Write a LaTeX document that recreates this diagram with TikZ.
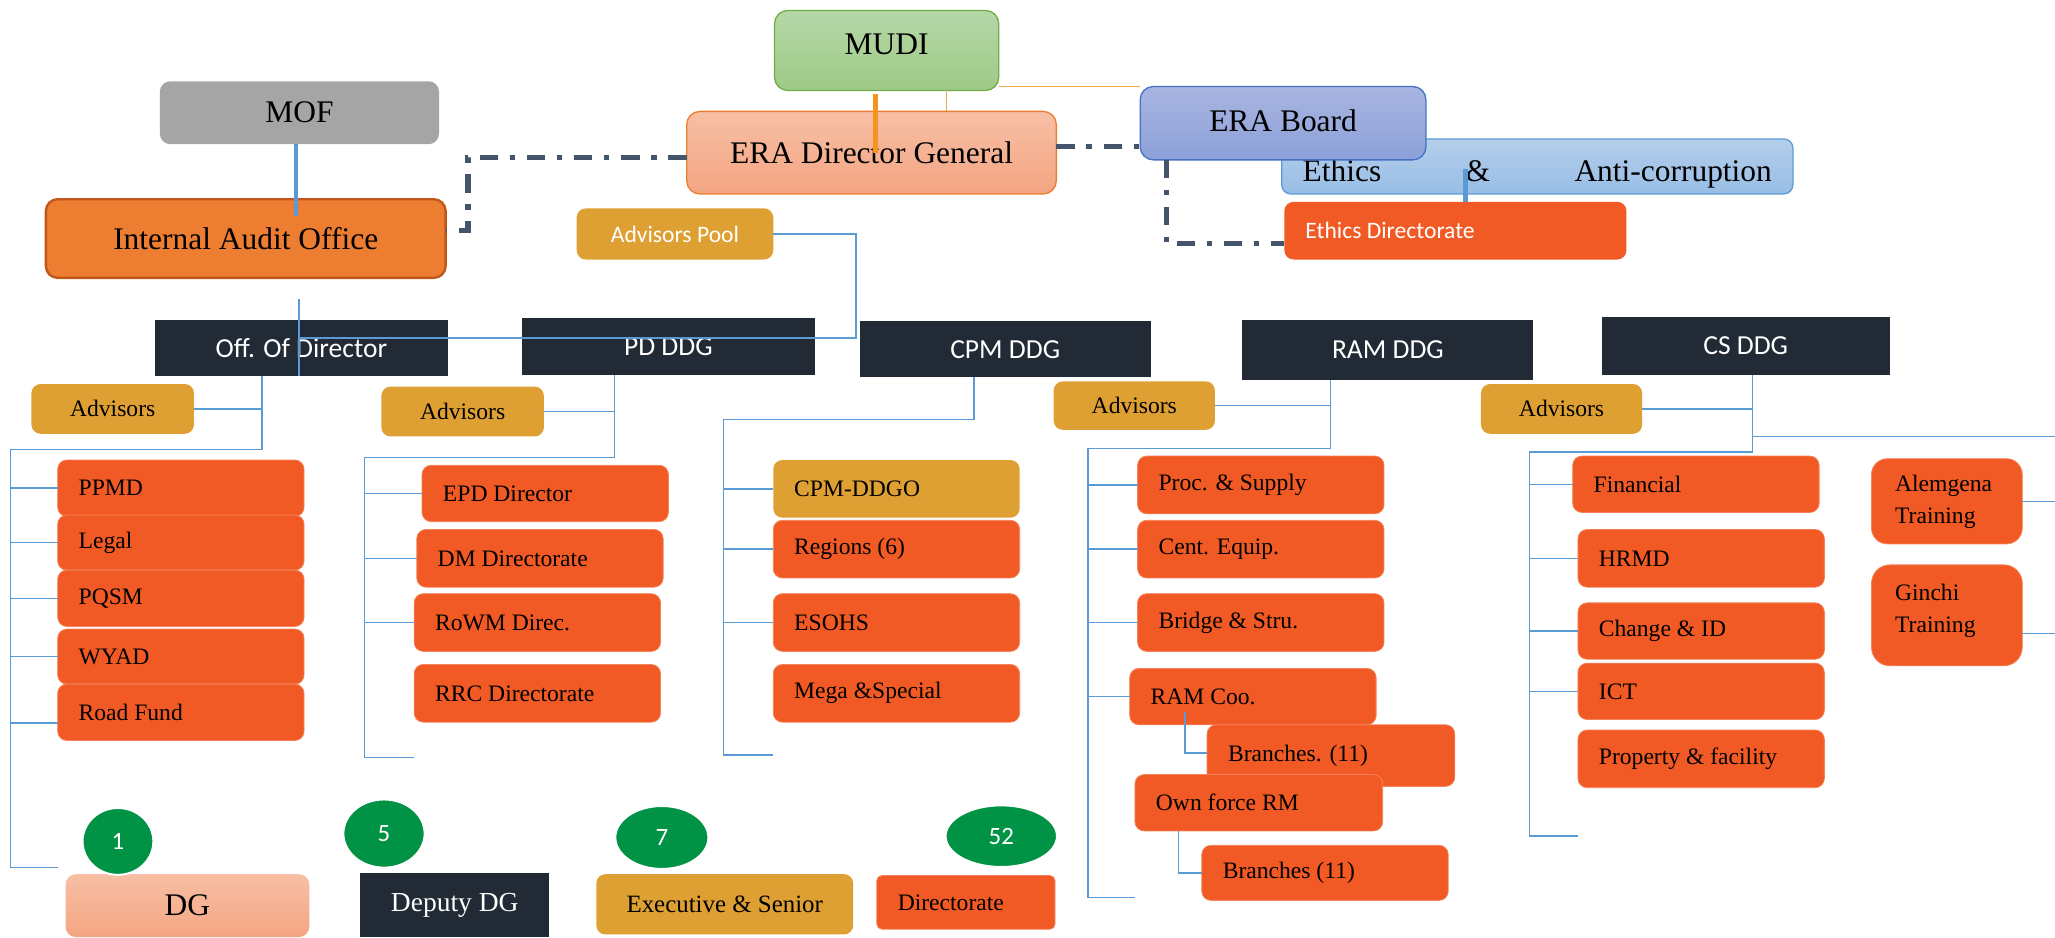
\documentclass[tikz,border=0pt]{standalone}
\usepackage{fontspec}
\setmainfont{Liberation Serif}
\newfontfamily\calib{Carlito}
\usetikzlibrary{shapes.geometric}
\definecolor{navy}{HTML}{222A35}
\definecolor{ored}{HTML}{F15A24}
\definecolor{oredl}{HTML}{F4825A}
\definecolor{gold}{HTML}{DEA032}
\definecolor{iaof}{HTML}{ED7D31}
\definecolor{iaob}{HTML}{C0561A}
\definecolor{salt}{HTML}{F7BFA5}
\definecolor{salb}{HTML}{F4A582}
\definecolor{salbd}{HTML}{ED7D31}
\definecolor{grt}{HTML}{B6D7A8}
\definecolor{grb}{HTML}{9DCA86}
\definecolor{grbd}{HTML}{70AD47}
\definecolor{bdt}{HTML}{A9B5E1}
\definecolor{bdb}{HTML}{8CA0D8}
\definecolor{bdbd}{HTML}{4472C4}
\definecolor{eat}{HTML}{B4CFEB}
\definecolor{eab}{HTML}{98BDE5}
\definecolor{eabd}{HTML}{5B9BD5}
\definecolor{greyb}{HTML}{A5A5A5}
\definecolor{conb}{HTML}{5B9BD5}
\definecolor{slate}{HTML}{44546A}
\definecolor{orthick}{HTML}{F7941D}
\definecolor{orthin}{HTML}{F5A94F}
\definecolor{grn}{HTML}{009245}
\newcommand\sz[2]{\fontsize{#1pt}{#2pt}\selectfont}
\newcommand\bx[7]{\node[#2,anchor=north west,minimum width={(#5-#3)*1pt},minimum height={(#6-#4)*1pt}] (#1) at (#3,#4) {#7};}
\newcommand\lbx[7]{\node[#2,anchor=north west,minimum width={(#5-#3)*1pt},minimum height={(#6-#4)*1pt}] (#1) at (#3,#4) {\makebox[\dimexpr #5pt-#3pt\relax][l]{\hspace*{16pt}#7}};}
\newcommand\shiftv[2]{\raisebox{#1}[\height][\depth]{#2}}
\tikzset{
 base/.style={inner sep=0pt,outer sep=0pt,align=center},
 nv/.style={base,fill=navy,text=white,font=\calib\sz{21}{25}},
 ob/.style={base,fill=ored,draw=oredl,line width=0.6pt,rounded corners=7pt,font=\sz{18}{22}},
 gb/.style={base,fill=gold,rounded corners=7pt,font=\sz{18}{22}},
 con/.style={draw=conb,line width=1.1pt},
 bthick/.style={draw=conb,line width=3.5pt},
 dd/.style={draw=slate,line width=4pt,dash pattern=on 14pt off 9pt on 4pt off 9pt},
 othick/.style={draw=orthick,line width=3.5pt},
 othin/.style={draw=orthin,line width=1pt},
 ell/.style={ellipse,fill=grn,draw=white,line width=1.5pt,text=white,inner sep=0pt,font=\calib\sz{19}{22}}
}
\begin{document}
\begin{tikzpicture}[x=1pt,y=-1pt]
\useasboundingbox (0,0) rectangle (1568,715);
% ---------- top ----------
\bx{mudi}{base,top color=grt,bottom color=grb,draw=grbd,line width=1pt,rounded corners=10pt,font=\sz{24}{28}}{591}{8}{762}{69}{\shiftv{5pt}{MUDI}}
\bx{mof}{base,fill=greyb,rounded corners=8pt,font=\sz{24}{28}}{122}{62}{335}{110}{MOF}
\bx{ea}{base,top color=eat,bottom color=eab,draw=eabd,line width=1pt,rounded corners=7pt,font=\sz{24}{28}}{978}{106}{1368}{148}{\shiftv{-6pt}{\hbox to 358pt{Ethics\hfill\&\hfill Anti-corruption}}}
\bx{board}{base,top color=bdt,bottom color=bdb,draw=bdbd,line width=1pt,rounded corners=10pt,font=\sz{24}{28}}{870}{66}{1088}{122}{\shiftv{2pt}{ERA Board}}
\bx{dg}{base,top color=salt,bottom color=salb,draw=salbd,line width=1pt,rounded corners=10pt,font=\sz{24}{28}}{524}{85}{806}{148}{ERA Director General}
\lbx{ed}{ob,draw=none,text=white,font=\calib\sz{18}{22}}{980}{154}{1241}{198}{Ethics Directorate}
\bx{iao}{base,fill=iaof,draw=iaob,line width=1.8pt,rounded corners=9pt,font=\sz{24}{28}}{35}{152}{340}{212}{Internal Audit Office}
\bx{ap}{gb,text=white,font=\calib\sz{18}{22}}{440}{159}{590}{198}{Advisors Pool}
% ---------- DDG row ----------
\bx{od}{nv}{118}{244}{342}{287}{Off. Of Director}
\bx{pd}{nv}{398}{243}{622}{286}{PD DDG}
\bx{cpm}{nv}{656}{245}{878}{288}{CPM DDG}
\bx{ram}{nv}{948}{244}{1170}{290}{RAM DDG}
\bx{cs}{nv}{1222}{242}{1442}{286}{CS DDG}
% ---------- advisors ----------
\bx{adA}{gb}{24}{293}{148}{331}{Advisors}
\bx{adB}{gb}{291}{295}{415}{333}{Advisors}
\bx{adC}{gb}{804}{291}{927}{328}{Advisors}
\bx{adD}{gb}{1130}{293}{1253}{331}{Advisors}
% ---------- office of director ----------
\lbx{ppmd}{ob}{44}{351}{232}{394}{PPMD}
\lbx{legal}{ob}{44}{393}{232}{435}{Legal}
\lbx{pqsm}{ob}{44}{435}{232}{478}{PQSM}
\lbx{wyad}{ob}{44}{480}{232}{522}{WYAD}
\lbx{rf}{ob}{44}{522}{232}{565}{Road Fund}
% ---------- PD ----------
\lbx{epd}{ob}{322}{355}{510}{398}{EPD Director}
\lbx{dm}{ob}{318}{404}{506}{448}{DM Directorate}
\lbx{rowm}{ob}{316}{453}{504}{497}{RoWM Direc.}
\lbx{rrc}{ob}{316}{507}{504}{551}{RRC Directorate}
% ---------- CPM ----------
\lbx{ddgo}{gb}{590}{351}{778}{395}{CPM-DDGO}
\lbx{reg}{ob}{590}{397}{778}{441}{Regions (6)}
\lbx{esohs}{ob}{590}{453}{778}{497}{ESOHS}
\lbx{mega}{ob}{590}{507}{778}{551}{Mega \&Special}
% ---------- RAM ----------
\lbx{proc}{ob}{868}{348}{1056}{392}{Proc. \& Supply}
\lbx{cent}{ob}{868}{397}{1056}{441}{Cent. Equip.}
\lbx{bridge}{ob}{868}{453}{1056}{497}{Bridge \& Stru.}
\lbx{ramcoo}{ob}{862}{510}{1050}{553}{RAM Coo.}
\lbx{brA}{ob}{921}{553}{1110}{600}{Branches. (11)}
\lbx{ownf}{ob}{866}{591}{1055}{634}{Own force RM}
\lbx{brB}{ob}{917}{645}{1105}{687}{Branches (11)}
% ---------- CS ----------
\lbx{fin}{ob}{1200}{348}{1388}{391}{Financial}
\lbx{hrmd}{ob}{1204}{404}{1392}{448}{HRMD}
\lbx{chg}{ob}{1204}{460}{1392}{503}{Change \& ID}
\lbx{ict}{ob}{1204}{506}{1392}{549}{ICT}
\lbx{prop}{ob}{1204}{557}{1392}{601}{Property \& facility}
\lbx{alem}{ob,rounded corners=12pt,font=\sz{18}{24}}{1428}{350}{1543}{415}{\hspace*{2pt}\begin{tabular}{@{}l@{}}Alemgena\\Training\end{tabular}}
\lbx{ginchi}{ob,rounded corners=14pt,font=\sz{18}{24}}{1428}{431}{1543}{508}{\hspace*{2pt}\shiftv{4pt}{\begin{tabular}{@{}l@{}}Ginchi\\Training\end{tabular}}}
% ---------- legend ----------
\bx{lgdg}{base,top color=salt,bottom color=salb,rounded corners=8pt,font=\sz{24}{28}}{50}{667}{236}{715}{DG}
\bx{lgddg}{nv,font=\sz{21}{24}}{275}{666}{419}{715}{Deputy DG}
\bx{lgex}{gb,font=\sz{19}{22}}{455}{667}{651}{713}{Executive \& Senior}
\lbx{lgdir}{ob,rounded corners=4pt}{669}{668}{805}{709}{Directorate}
\node[ell,minimum width=54pt,minimum height=51pt] (n1) at (90,642) {1};
\node[ell,minimum width=62pt,minimum height=52pt] (n5) at (293,636) {5};
\node[ell,minimum width=71pt,minimum height=48pt] (n7) at (505,639) {7};
\node[ell,minimum width=85pt,minimum height=47pt] (n52) at (764,638) {52};
% ---------- top connectors ----------
\coordinate (mt) at (668,72);
\draw[othick] (mt) -- (mt |- dg.center);
\coordinate (moR) at (0,66);
\draw[othin] (moR -| mudi.east) -- (moR -| board.west);
\coordinate (mv) at (722,0);
\draw[othin] (mudi.south -| mv) -- (dg.north -| mv);
\coordinate (db) at (0,112);
\draw[dd] (dg.east |- db) -- (board.west |- db);
\coordinate (di) at (357,120);
\coordinate (di2) at (0,176);
\draw[dd] (dg.west |- di) -- (di) |- (iao.east |- di2);
\coordinate (be) at (890,186);
\draw[dd] (board.south -| be) -- (be) -- (ed.west |- be);
\coordinate (mi) at (226,165);
\draw[bthick] (mof.south -| mi) -- (mi);
\coordinate (ee) at (1118,129);
\draw[bthick] (ee) -- (ed.north -| ee);
% advisors pool
\coordinate (apA) at (653,258);
\coordinate (apB) at (228,258);
\draw[con] (ap.east) -| (apA) -- (apB);
\coordinate (iaT) at (228,228);
\draw[con] (iaT) -- (iaT |- od.south);
% ---------- office of director connectors ----------
\coordinate (odJ) at (200,343);
\coordinate (odE) at (8,662);
\draw[con] (od.south -| odJ) -- (odJ) -| (odE) -- (odE -| ppmd.west);
\draw[con] (adA.east) -- (adA.east -| odJ);
\foreach \n in {ppmd,legal,pqsm,wyad} \draw[con] (\n.west) -- (\n.west -| odE);
\draw[con] ([yshift=-8pt]rf.west) -- ([yshift=-8pt]rf.west -| odE);
% ---------- PD connectors ----------
\coordinate (pdJ) at (469,349);
\coordinate (pdE) at (278,578);
\draw[con] (pd.south -| pdJ) -- (pdJ) -| (pdE) -- (pdE -| rrc.west);
\draw[con] (adB.east) -- (adB.east -| pdJ);
\foreach \n in {epd,dm,rowm} \draw[con] (\n.west) -- (\n.west -| pdE);
% ---------- CPM connectors ----------
\coordinate (cpJ) at (743,320);
\coordinate (cpE) at (552,576);
\draw[con] (cpm.south -| cpJ) -- (cpJ) -| (cpE) -- (cpE -| mega.west);
\foreach \n in {ddgo,reg,esohs} \draw[con] (\n.west) -- (\n.west -| cpE);
% ---------- RAM connectors ----------
\coordinate (raJ) at (1015,342);
\coordinate (raE) at (830,685);
\draw[con] (ram.south -| raJ) -- (raJ) -| (raE) -- (raE -| ownf.west);
\draw[con] (adC.east) -- (adC.east -| raJ);
\foreach \n in {proc,cent,bridge,ramcoo} \draw[con] (\n.west) -- (\n.west -| raE);
\coordinate (rcS) at (904,543);
\draw[con] (rcS) |- ([yshift=2pt]brA.west);
\coordinate (ofS) at (899,0);
\draw[con] (ownf.south -| ofS) |- (brB.west);
% ---------- CS connectors ----------
\coordinate (csJ) at (1337,345);
\coordinate (csE) at (1167,638);
\coordinate (csR) at (1568,333);
\draw[con] (cs.south -| csJ) -- (csJ) -| (csE) -- (csE -| prop.west);
\draw[con] (csR -| csJ) -- (csR);
\draw[con] (adD.east) -- (adD.east -| csJ);
\foreach \n in {fin,hrmd,chg,ict} \draw[con] (\n.west) -- (\n.west -| csE);
\draw[con] (alem.east) -- (alem.east -| csR);
\draw[con] ([yshift=-14pt]ginchi.east) -- ([yshift=-14pt]ginchi.east -| csR);
\end{tikzpicture}
\end{document}
